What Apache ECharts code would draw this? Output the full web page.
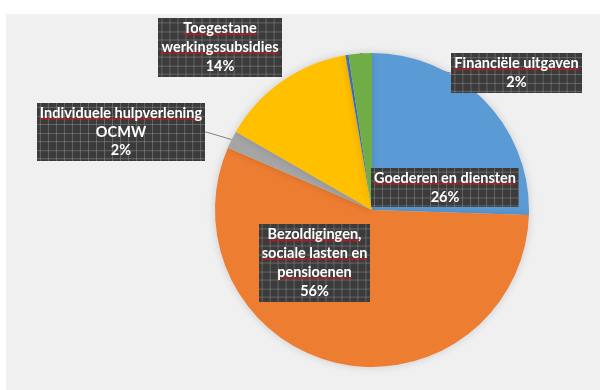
<!DOCTYPE html>
<html>
<head>
<meta charset="utf-8">
<script src="https://cdn.jsdelivr.net/npm/echarts@6/dist/echarts.min.js"></script>
<style>
  html, body { margin: 0; padding: 0; background: #ffffff; }
  #chart { width: 600px; height: 390px; }
</style>
</head>
<body>
<div id="chart"></div>
<script>
// Uitgaven per categorie (aandeel in %)
const categories = [
  'Goederen en diensten',
  'Bezoldigingen, sociale lasten en pensioenen',
  'Individuele hulpverlening OCMW',
  'Toegestane werkingssubsidies',
  'Overige uitgaven',
  'Financiële uitgaven'
];
const shares = [25.5, 56.0, 1.8, 14.0, 0.3, 2.4];
// Label text as it is wrapped in the boxes (null = no label)
const labelLines = [
  ['Goederen en diensten'],
  ['Bezoldigingen,', 'sociale lasten en', 'pensioenen'],
  ['Individuele hulpverlening', 'OCMW'],
  ['Toegestane', 'werkingssubsidies'],
  null,
  ['Financiële uitgaven']
];
// Lines flagged by the spell checker (wavy red underline)
const flaggedLines = [
  [true],
  [true, true, true],
  [true, false],
  [true, true],
  null,
  [true]
];
const sliceColors = ['#5B9BD5', '#ED7D31', '#A5A5A5', '#FFC000', '#4472C4', '#70AD47'];

// Where each label box sits (box centre, px)
const labelSpots = [
  [445, 187.5],
  [314.5, 263],
  [121, 132],
  [220, 47.5],
  null,
  [516.5, 73]
];
const withLeader = [false, false, true, false, false, true];

const FONT_SIZE = 14.5;
const LINE_H = 18.8;
const FONT_FAMILY = 'Lato';
const PAD = [1, 3, 1, 3];

const measureCtx = document.createElement('canvas').getContext('2d');
function textWidth(t) {
  measureCtx.font = 'bold ' + FONT_SIZE + 'px ' + FONT_FAMILY;
  return measureCtx.measureText(t).width;
}

// Dark grid texture sized to a label box
function gridImage(w, h) {
  const c = document.createElement('canvas');
  c.width = Math.max(1, Math.round(w));
  c.height = Math.max(1, Math.round(h));
  const g = c.getContext('2d');
  g.fillStyle = '#3b3b3b';
  g.fillRect(0, 0, c.width, c.height);
  g.fillStyle = 'rgba(150,150,150,0.45)';
  for (let x = 3; x < c.width; x += 8) g.fillRect(x, 0, 1, c.height);
  for (let y = 4; y < c.height; y += 8.5) g.fillRect(0, Math.round(y), c.width, 1);
  return c;
}

// Wavy red underline under one text line
function squiggleImage(w, h) {
  const c = document.createElement('canvas');
  c.width = Math.max(1, Math.round(w));
  c.height = Math.max(1, Math.round(h));
  const g = c.getContext('2d');
  g.strokeStyle = '#d0161e';
  g.lineWidth = 1.3;
  g.beginPath();
  const base = c.height - 2.5;
  for (let x = 0; x <= c.width; x += 1) {
    const y = base + ((x % 4) < 2 ? -0.7 : 0.7);
    if (x === 0) g.moveTo(x, y); else g.lineTo(x, y);
  }
  g.stroke();
  return c;
}

function buildLabel(i) {
  const lines = labelLines[i];
  if (!lines) return { show: false };
  const pct = Math.round(shares[i]) + '%';
  const all = lines.concat([pct]);
  const maxW = Math.max.apply(null, all.map(textWidth));
  const boxW = maxW + PAD[1] + PAD[3];
  const boxH = all.length * LINE_H + PAD[0] + PAD[2];
  const base = {
    color: '#ffffff',
    fontFamily: FONT_FAMILY,
    fontWeight: 'bold',
    fontSize: FONT_SIZE,
    lineHeight: LINE_H,
    align: 'center'
  };
  const rich = { p: Object.assign({}, base) };
  const parts = [];
  lines.forEach((ln, k) => {
    if (flaggedLines[i][k]) {
      const key = 'u' + k;
      rich[key] = Object.assign({}, base, {
        backgroundColor: { image: squiggleImage(textWidth(ln), LINE_H) }
      });
      parts.push('{' + key + '|' + ln + '}');
    } else {
      parts.push('{p|' + ln + '}');
    }
  });
  parts.push('{p|' + pct + '}');
  return {
    show: true,
    formatter: parts.join('\n'),
    rich: rich,
    backgroundColor: { image: gridImage(boxW, boxH) }
  };
}

const chart = echarts.init(document.getElementById('chart'), null, { renderer: 'canvas' });

const data = categories.map((name, i) => ({
  name: name,
  value: shares[i],
  itemStyle: { color: sliceColors[i] },
  label: buildLabel(i),
  labelLine: { show: withLeader[i] }
}));

chart.setOption({
  animation: false,
  backgroundColor: '#ffffff',
  graphic: [{
    type: 'rect',
    shape: { x: 6, y: 14, width: 594, height: 376 },
    style: { fill: '#f0f0f0' },
    z: -10
  }],
  series: [{
    type: 'pie',
    center: [372, 210],
    radius: [0, 157],
    startAngle: 90,
    clockwise: true,
    avoidLabelOverlap: false,
    data: data,
    itemStyle: {
      borderWidth: 0,
      shadowBlur: 8,
      shadowColor: 'rgba(0,0,0,0.15)'
    },
    label: {
      position: 'outside',
      color: '#ffffff',
      fontFamily: FONT_FAMILY,
      fontWeight: 'bold',
      fontSize: FONT_SIZE,
      lineHeight: LINE_H,
      align: 'center',
      padding: PAD,
      shadowBlur: 4,
      shadowOffsetX: 1.5,
      shadowOffsetY: 1.5,
      shadowColor: 'rgba(0,0,0,0.45)'
    },
    labelLine: {
      length: 1,
      length2: 1,
      lineStyle: { color: '#808080', width: 1 }
    },
    labelLayout: p => {
      const spot = labelSpots[p.dataIndex];
      if (!spot) return {};
      return { x: spot[0], y: spot[1], align: 'center', verticalAlign: 'middle' };
    },
    emphasis: { disabled: true }
  }]
});
</script>
</body>
</html>
